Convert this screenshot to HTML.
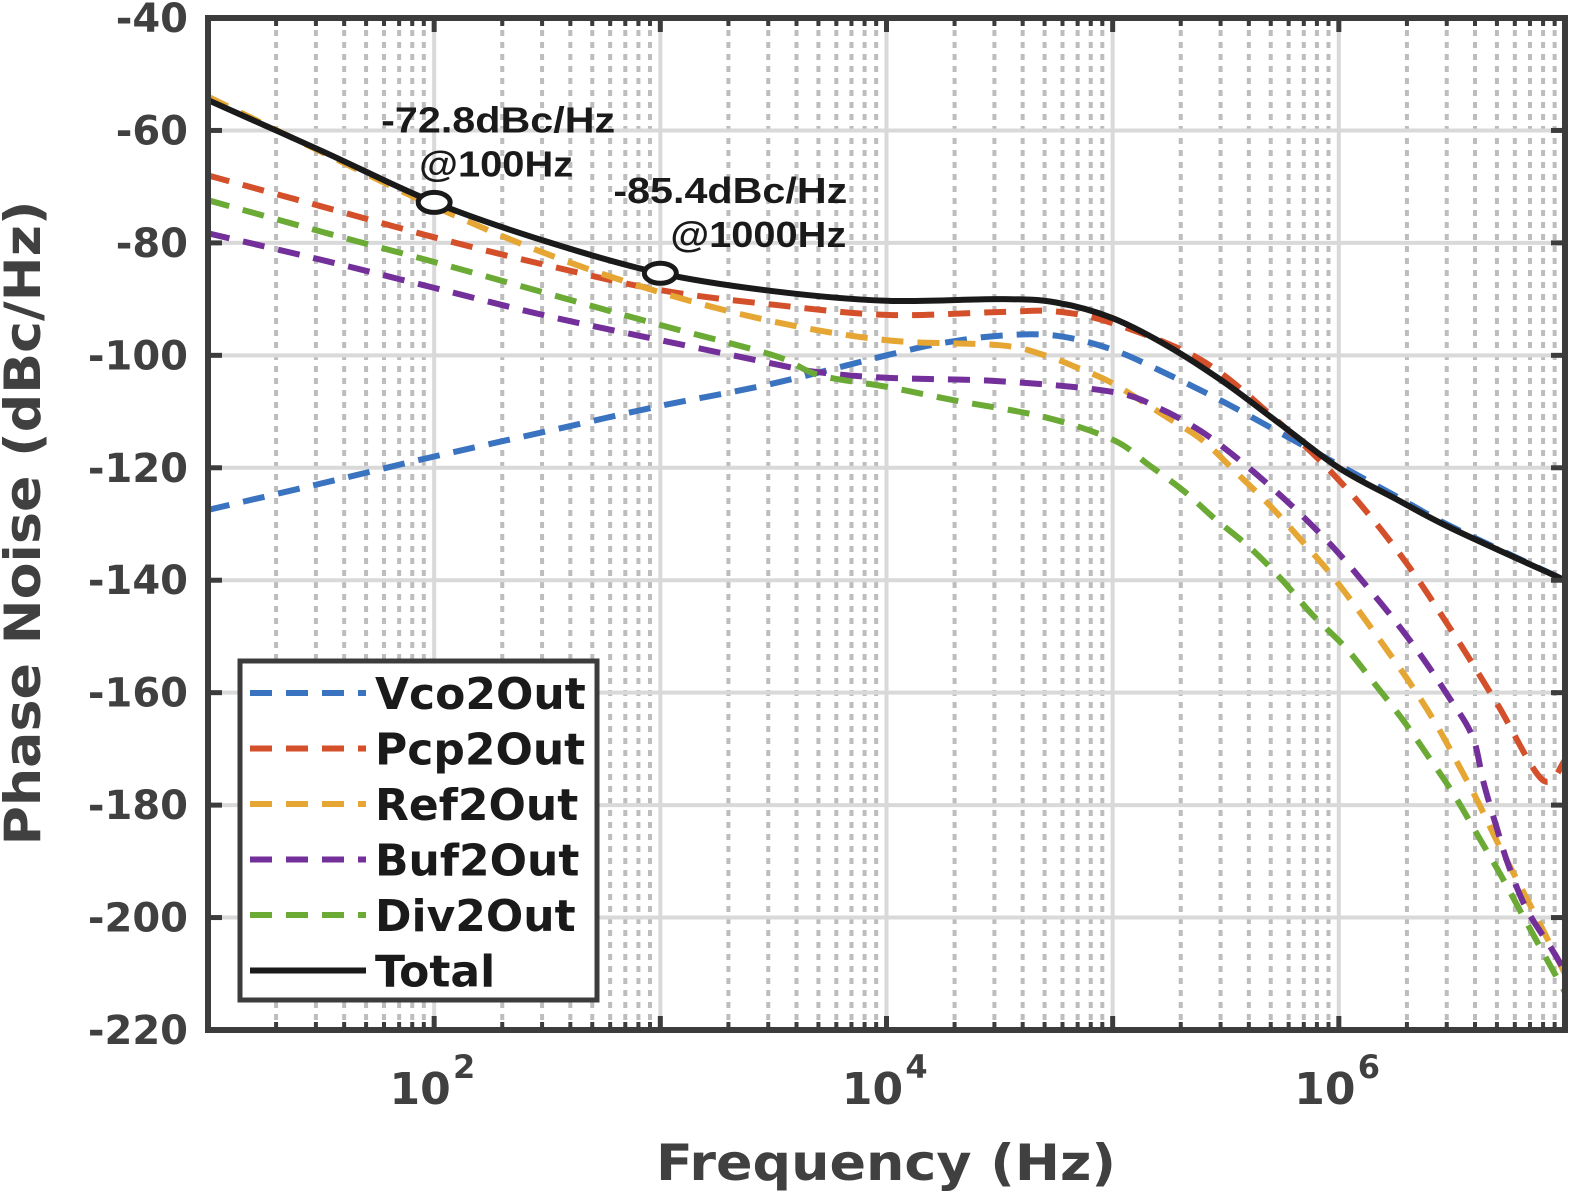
<!DOCTYPE html>
<html><head><meta charset="utf-8"><style>
html,body{margin:0;padding:0;background:#fff}
svg{display:block}
text{font-family:"DejaVu Sans","Liberation Sans",sans-serif;font-weight:bold}
.ann{font-family:"Liberation Sans","DejaVu Sans",sans-serif}
</style></head><body>
<svg id="chart" width="1575" height="1195" viewBox="0 0 1575 1195" xmlns="http://www.w3.org/2000/svg">
<g id="grid"></g>
<g id="series"></g>
<g id="axes"></g>
</svg>
<script>
// ---- data (log10 of frequency in Hz, phase noise in dBc/Hz) ----
const yTicks = [-40,-60,-80,-100,-120,-140,-160,-180,-200,-220];
const xTickExps = [2,4,6];
const vcoLogF = [1,1.5,2,2.5,3,3.5,4,4.25,4.5,4.75,5,5.25,5.5,5.75,6,6.25,6.5,7];
const vcoDb = [-127.5,-122.8,-118,-113.5,-109,-105,-100,-97.8,-96.5,-96.5,-99,-103.5,-108.5,-114,-119.5,-125,-130.5,-140];
const pcpLogF = [1,1.5,2,2.5,3,3.5,4,4.5,4.75,5,5.39,5.71,6,6.26,6.48,6.7,6.9,7];
const pcpDb = [-68,-73.5,-79,-84,-88.4,-91,-92.8,-92.3,-92.2,-94.3,-100.8,-111,-122.2,-134.8,-147.8,-162,-175.5,-172];
const refLogF = [1,1.5,2,2.5,3,3.5,4,4.5,4.7,4.85,5,5.24,5.4,5.55,5.69,5.83,5.96,6.08,6.2,6.32,6.43,6.53,6.62,6.71,6.81,6.9,7];
const refDb = [-54,-63.8,-73.5,-82,-88.8,-94,-97.3,-98.2,-100,-102.3,-105,-111,-115.2,-121,-126.5,-132.7,-138.7,-145,-151.7,-158.6,-165.6,-172.9,-179.8,-187.3,-195,-202,-210];
const bufLogF = [1,1.5,2,2.5,3,3.5,3.7,4,4.5,5,5.21,5.39,5.55,5.7,5.85,5.99,6.12,6.25,6.37,6.48,6.59,6.64,6.7,6.75,6.83,6.94,7.02];
const bufDb = [-78.3,-83,-88,-93,-97.3,-101.5,-103,-104,-104.6,-106.5,-109.5,-113.5,-118.3,-123.4,-129,-134.8,-140.9,-147.3,-153.8,-160.4,-167.7,-176,-184.3,-190.7,-198.5,-205.5,-211];
const divLogF = [1,1.5,2,2.5,3,3.5,3.7,4,4.3,4.7,5,5.16,5.32,5.45,5.61,5.75,5.88,6.03,6.15,6.28,6.4,6.51,6.61,6.71,6.81,6.9,7.01];
const divDb = [-72.4,-78,-83.4,-89,-94.6,-100,-103.5,-105.6,-108,-111,-115,-119.5,-124.3,-129,-134.3,-140,-146,-152,-158,-164.7,-171.6,-178.2,-185.1,-192,-199.4,-206,-214];
const totLogF = [1,1.5,2,2.5,3,3.5,4,4.5,4.75,5,5.25,5.5,5.75,6,6.25,6.5,7];
const totDb = [-54.6,-63.6,-72.8,-79.8,-85.4,-88.6,-90.3,-90,-90.6,-93.4,-98.5,-105,-112.5,-120,-125.5,-130.8,-140];
const markLogF = [2,3];
const markDb = [-72.8,-85.4];
const markLabels = [["-72.8dBc/Hz","@100Hz"],["-85.4dBc/Hz","@1000Hz"]];

// ---- axes geometry ----
const X0=208, X1=1565, Y0=18, Y1=1030;
const xs = lf => X0 + (lf-1)/6*(X1-X0);
const ys = v => Y0 + (-40 - v)/180*(Y1-Y0);
const NS="http://www.w3.org/2000/svg";
function mk(tag, parent, attrs){const e=document.createElementNS(NS,tag);for(const k in attrs)e.setAttribute(k,attrs[k]);parent.appendChild(e);return e;}
const grid=document.getElementById('grid'), ser=document.getElementById('series'), axes=document.getElementById('axes');
const svg=document.getElementById('chart');
const clip=mk('clipPath',svg,{id:'pc'});mk('rect',clip,{x:X0,y:Y0,width:X1-X0,height:Y1-Y0});
ser.setAttribute('clip-path','url(#pc)');

for(let d=1;d<7;d++){for(let m=2;m<=9;m++){const x=xs(d+Math.log10(m));
 const l=mk('line',grid,{x1:x,x2:x,y1:Y0,y2:Y1,stroke:'#bdbdbd','stroke-width':4,'stroke-dasharray':'6 6'});
 
 
 mk('line',axes,{x1:x,x2:x,y1:Y1,y2:Y1-8,stroke:'#3c3c3c','stroke-width':4});
 mk('line',axes,{x1:x,x2:x,y1:Y0,y2:Y0+8,stroke:'#3c3c3c','stroke-width':4});
}}
for(let d=2;d<7;d++){const x=xs(d);
 const l=mk('line',grid,{x1:x,x2:x,y1:Y0,y2:Y1,stroke:'#d9d9d9','stroke-width':4});
 
 
 mk('line',axes,{x1:x,x2:x,y1:Y1,y2:Y1-14,stroke:'#3c3c3c','stroke-width':5});
 mk('line',axes,{x1:x,x2:x,y1:Y0,y2:Y0+14,stroke:'#3c3c3c','stroke-width':5});
}
yTicks.forEach(v=>{const y=ys(v);
 if(v>-220&&v<-40){const l=mk('line',grid,{x1:X0,x2:X1,y1:y,y2:y,stroke:'#d9d9d9','stroke-width':4});
 
 
 mk('line',axes,{x1:X0,x2:X0+14,y1:y,y2:y,stroke:'#3c3c3c','stroke-width':5});
 mk('line',axes,{x1:X1-14,x2:X1,y1:y,y2:y,stroke:'#3c3c3c','stroke-width':5});}
 const t=mk('text',axes,{x:188,y:y+14,'text-anchor':'end','font-size':40,fill:'#404040'});t.textContent=v;
 
 
});
xTickExps.forEach(e=>{const x=xs(e);
 const t=mk('text',axes,{x:x-14,y:1104,'text-anchor':'middle','font-size':44,fill:'#404040'});
 t.textContent='10';
 
 
 const s=mk('text',axes,{x:x+30,y:1078,'text-anchor':'middle','font-size':32,fill:'#404040'});s.textContent=e;
});

function smoothPath(px){
 let d='M'+px[0][0].toFixed(1)+','+px[0][1].toFixed(1);
 for(let i=0;i<px.length-1;i++){
  const p0=px[Math.max(0,i-1)],p1=px[i],p2=px[i+1],p3=px[Math.min(px.length-1,i+2)];
  const c1=[p1[0]+(p2[0]-p0[0])/6,p1[1]+(p2[1]-p0[1])/6];
  const c2=[p2[0]-(p3[0]-p1[0])/6,p2[1]-(p3[1]-p1[1])/6];
  d+=' C'+c1.map(v=>v.toFixed(1)).join(',')+' '+c2.map(v=>v.toFixed(1)).join(',')+' '+p2.map(v=>v.toFixed(1)).join(',');
 }
 return d;
}
function series(lf,db,color,name,dash){
 const px=lf.map((f,i)=>[xs(f),ys(db[i])]);
 const p=mk('path',ser,{d:smoothPath(px),fill:'none',stroke:color,'stroke-width':6,'stroke-linejoin':'round'});
 if(dash)p.setAttribute('stroke-dasharray','22 14');
 
 
}
series(vcoLogF,vcoDb,'#3a73c0','vco2out-line',true);
series(pcpLogF,pcpDb,'#d4502a','pcp2out-line',true);
series(refLogF,refDb,'#e5a633','ref2out-line',true);
series(bufLogF,bufDb,'#74309a','buf2out-line',true);
series(divLogF,divDb,'#6aaa35','div2out-line',true);
series(totLogF,totDb,'#1a1a1a','total-line',false);

markLogF.forEach((f,i)=>{const x=xs(f),y=ys(markDb[i]);
 const c=mk('ellipse',ser,{cx:x,cy:y,rx:16,ry:10,fill:'#fff',stroke:'#1a1a1a','stroke-width':5});
 
 
 const t1=mk('text',axes,{class:'ann',x:x+64+(i?6:0),y:y-70,'text-anchor':'middle','font-size':36,fill:'#1a1a1a',textLength:234,lengthAdjust:'spacingAndGlyphs'});t1.textContent=markLabels[i][0];
 
 
 const t2=mk('text',axes,{class:'ann',x:x+62+(i?36:0),y:y-26,'text-anchor':'middle','font-size':36,fill:'#1a1a1a',textLength:i?176:154,lengthAdjust:'spacingAndGlyphs'});t2.textContent=markLabels[i][1];
 
 
});

const box=mk('rect',axes,{x:X0,y:Y0,width:X1-X0,height:Y1-Y0,fill:'none',stroke:'#3c3c3c','stroke-width':6});



const xt=mk('text',axes,{x:886,y:1180,'text-anchor':'middle','font-size':50,fill:'#404040',textLength:460,lengthAdjust:'spacingAndGlyphs'});xt.textContent='Frequency (Hz)';


const yt=mk('text',axes,{x:0,y:0,'text-anchor':'middle','font-size':50,fill:'#404040',transform:'translate(40,523) rotate(-90)',textLength:645,lengthAdjust:'spacingAndGlyphs'});yt.textContent='Phase Noise (dBc/Hz)';



const leg=mk('g',axes,{});


mk('rect',leg,{x:240,y:661,width:357,height:339,fill:'#fff',stroke:'#3c3c3c','stroke-width':5});
const legNames=['Vco2Out','Pcp2Out','Ref2Out','Buf2Out','Div2Out','Total'];
const legColors=['#3a73c0','#d4502a','#e5a633','#74309a','#6aaa35','#1a1a1a'];
legNames.forEach((n,i)=>{const y=693+i*55.5;
 const g=mk('g',leg,{});
 
 
 const l=mk('line',g,{x1:250,x2:366,y1:y,y2:y,stroke:legColors[i],'stroke-width':6});
 if(i<5)l.setAttribute('stroke-dasharray','22 14');
 const t=mk('text',g,{x:375,y:y+16,'font-size':44,fill:'#1a1a1a'});t.textContent=n;
});
</script>
</body></html>
